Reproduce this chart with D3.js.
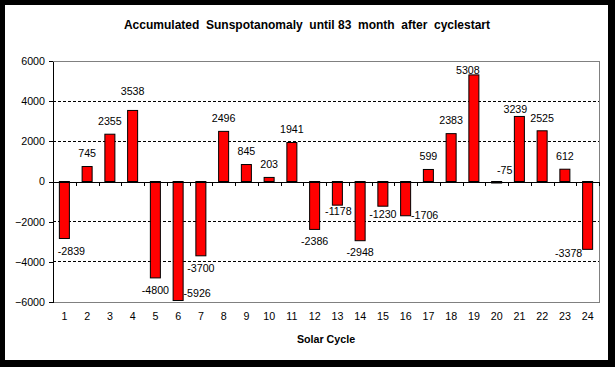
<!DOCTYPE html>
<html>
<head>
<meta charset="utf-8">
<script src="https://cdn.jsdelivr.net/npm/d3@7"></script>
<style>
  body { margin: 0; background: #000; }
  text { font-family: "Liberation Sans", Arial, sans-serif; }
</style>
</head>
<body>
<div id="chart"></div>
<script>
// data
var cycles = ["1","2","3","4","5","6","7","8","9","10","11","12",
              "13","14","15","16","17","18","19","20","21","22","23","24"];
var anomaly = [-2839, 745, 2355, 3538, -4800, -5926, -3700, 2496, 845, 203, 1941, -2386,
               -1178, -2948, -1230, -1706, 599, 2383, 5308, -75, 3239, 2525, 612, -3378];
var yTicks = [-6000, -4000, -2000, 0, 2000, 4000, 6000];
var gridValues = [-4000, -2000, 2000, 4000];

// hand-placed data labels in the original (dx, dy from default spot)
var labelNudge = {
  "1": [7, 1], "4": [0, -6], "6": [19, -19], "13": [1, -6], "15": [0, -4],
  "16": [19, -13], "19": [-6, 8], "20": [8, -25], "21": [-4, 6], "24": [-19, -8]
};

var W = 615, H = 367;
var margin = {top: 61, right: 16, bottom: 65, left: 53},
    width = W - margin.left - margin.right,
    height = H - margin.top - margin.bottom;

var root = d3.select("#chart").append("svg")
    .attr("width", W)
    .attr("height", H);

// black frame, white chart area
root.append("rect").attr("width", W).attr("height", H).attr("fill", "#000");
root.append("rect").attr("x", 5).attr("y", 5).attr("width", 603).attr("height", 355).attr("fill", "#fff");

root.append("text")
    .attr("x", 307).attr("y", 29)
    .attr("text-anchor", "middle")
    .style("font-size", "12px").style("font-weight", "bold")
    .style("white-space", "pre")
    .text("Accumulated  Sunspotanomaly  until 83  month  after  cyclestart");

var svg = root.append("g")
    .attr("transform", "translate(" + margin.left + "," + margin.top + ")");

var x = d3.scaleBand().domain(cycles).range([0, width]).padding(0);
var xEdge = d3.scaleLinear().domain([0, cycles.length]).range([0, width]);
var y = d3.scaleLinear().domain([-6000, 6000]).range([height, 0]);

// plot frame
svg.append("rect")
    .attr("width", width).attr("height", height)
    .attr("fill", "none").attr("stroke", "#808080").attr("stroke-width", 1)
    .attr("shape-rendering", "crispEdges");

// dashed gridlines
svg.selectAll(".grid")
    .data(gridValues)
  .enter().append("line")
    .attr("class", "grid")
    .attr("x1", 0).attr("x2", width)
    .attr("y1", function(d) { return y(d); })
    .attr("y2", function(d) { return y(d); })
    .attr("stroke", "#000")
    .attr("stroke-dasharray", "3,2")
    .attr("shape-rendering", "crispEdges");

// Y axis
var yAxis = svg.append("g")
    .call(d3.axisLeft(y).tickValues(yTicks).tickFormat(d3.format("d"))
      .tickSize(4).tickSizeOuter(0).tickPadding(4));
yAxis.selectAll("text").style("font-size", "10.7px").attr("fill", "#000")
    .style("font-family", "'Liberation Sans', Arial, sans-serif");
yAxis.selectAll("line, path").attr("stroke", "#000").attr("shape-rendering", "crispEdges");

// bars
var barW = x.bandwidth() * 0.44;
svg.selectAll(".bar")
    .data(anomaly)
  .enter().append("rect")
    .attr("class", "bar")
    .attr("x", function(d, i) { return x(cycles[i]) + (x.bandwidth() - barW) / 2; })
    .attr("y", function(d) { return y(Math.max(d, 0)); })
    .attr("width", barW)
    .attr("height", function(d) { return Math.abs(y(d) - y(0)); })
    .attr("fill", "#ff0000")
    .attr("stroke", "#000")
    .attr("stroke-width", 1);

// zero line with category ticks
var zeroAxis = svg.append("g")
    .attr("transform", "translate(0," + y(0) + ")")
    .call(d3.axisBottom(xEdge).tickValues(d3.range(cycles.length + 1)).tickSize(4).tickSizeOuter(0).tickFormat(""));
zeroAxis.selectAll("line, path").attr("stroke", "#000").attr("shape-rendering", "crispEdges");

// category labels
var xAxis = svg.append("g")
    .attr("transform", "translate(0," + height + ")")
    .call(d3.axisBottom(x).tickSize(0).tickPadding(10));
xAxis.select(".domain").remove();
xAxis.selectAll("text").style("font-size", "10.7px").attr("fill", "#000")
    .style("font-family", "'Liberation Sans', Arial, sans-serif");

// data labels
svg.selectAll(".val")
    .data(anomaly)
  .enter().append("text")
    .attr("class", "val")
    .attr("text-anchor", "middle")
    .attr("dy", "0.35em")
    .style("font-size", "10.7px")
    .attr("x", function(d, i) {
      var n = labelNudge[cycles[i]] || [0, 0];
      return x(cycles[i]) + x.bandwidth() / 2 + n[0];
    })
    .attr("y", function(d, i) {
      var n = labelNudge[cycles[i]] || [0, 0];
      return (d >= 0 ? y(d) - 13 : y(d) + 12) + n[1];
    })
    .text(function(d) { return d; });

// x title
svg.append("text")
    .attr("x", width / 2).attr("y", height + 41)
    .attr("text-anchor", "middle")
    .style("font-size", "10.7px").style("font-weight", "bold")
    .text("Solar Cycle");
</script>
</body>
</html>
